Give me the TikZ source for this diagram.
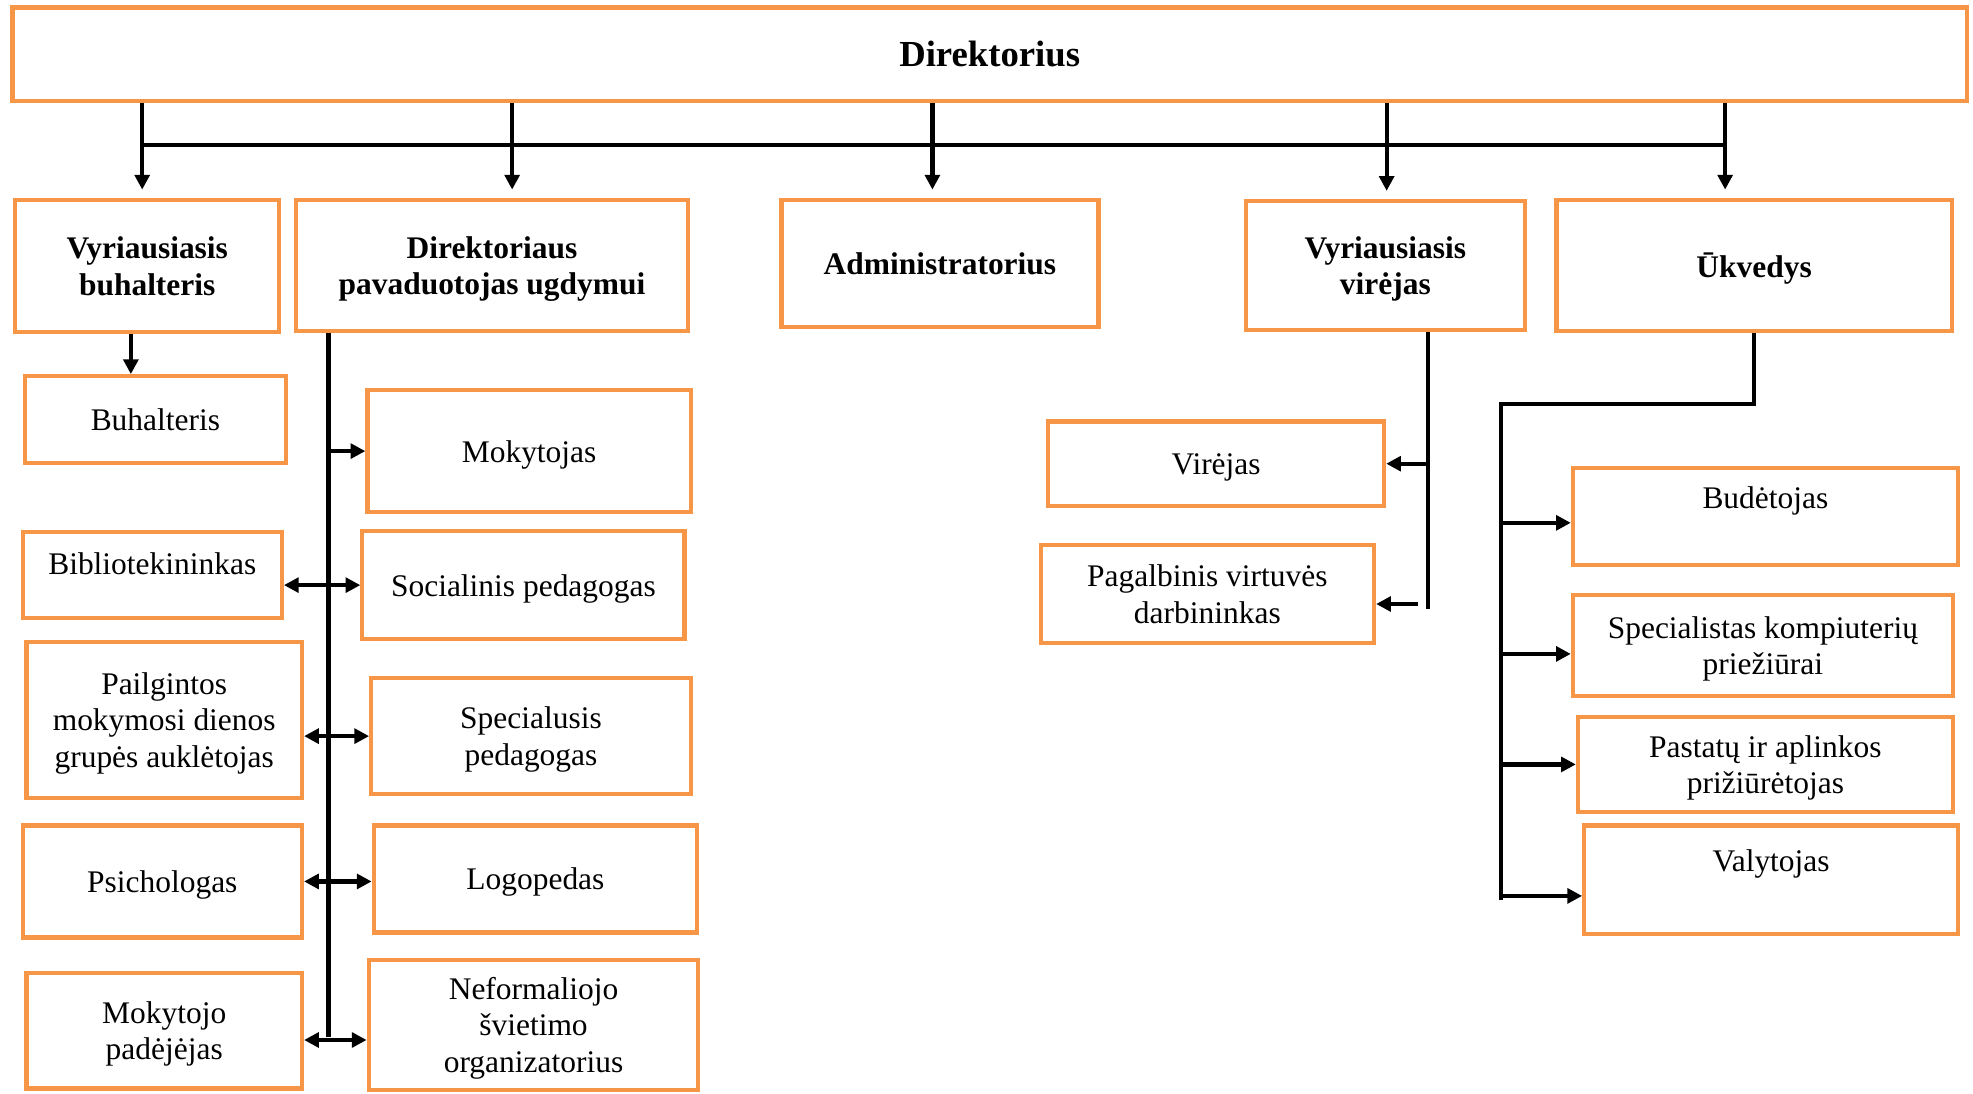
\documentclass[tikz,border=0pt]{standalone}
\usepackage{fontspec}
\setmainfont{Liberation Serif}
\usetikzlibrary{arrows.meta}
\definecolor{boxorange}{HTML}{F79646}

\begin{document}
\begin{tikzpicture}[x=0.6pt, y=-0.6pt,
    font=\fontsize{15}{17.4}\selectfont,
    box/.style={draw=boxorange, line width=2pt, inner sep=0pt, align=center, text depth=-1.5pt},
    head/.style={box, font=\fontsize{15}{17.4}\selectfont\bfseries},
    conn/.style={line width=2pt},
    arr/.style={conn, -{Triangle[length=7pt,width=7pt]}},
    darr/.style={conn, {Triangle[length=7pt,width=7pt]}-{Triangle[length=7pt,width=7pt]}}]
\useasboundingbox (0,0) rectangle (1568,869);

% top level
\node (dir) [box, minimum width=931.8pt, minimum height=44.4pt,
  font=\fontsize{17.5}{20}\selectfont\bfseries] at (786.5,43) {Direktorius};

% second level
\node (vbuh) [head, minimum width=126pt,   minimum height=63pt]   at (117,211.5) {Vyriausiasis\\buhalteris};
\node (pav)  [head, minimum width=187.2pt, minimum height=62.4pt] at (391,211)   {Direktoriaus\\pavaduotojas ugdymui};
\node (adm)  [head, minimum width=151.2pt, minimum height=60.6pt] at (747,209.5) {Administratorius};
\node (vvir) [head, minimum width=133.2pt, minimum height=61.2pt] at (1101,211)  {Vyriausiasis\\virėjas};
\node (ukv)  [head, minimum width=188.4pt, minimum height=62.4pt] at (1394,211)  {Ūkvedys};

% left column
\node (buh)   [box, minimum width=124.2pt, minimum height=41.4pt] at (123.5,333.5) {Buhalteris};
\node (bibl)  [box, minimum width=123.6pt, minimum height=40.8pt,
  label={[yshift=5.4pt]center:Bibliotekininkas}] at (121,457) {};
\node (pail)  [box, minimum width=131.4pt, minimum height=74.4pt] at (130.5,572) {Pailgintos\\mokymosi dienos\\grupės auklėtojas};
\node (psich) [box, minimum width=133.2pt, minimum height=53.4pt] at (129,700.5) {Psichologas};
\node (mpad)  [box, minimum width=131.4pt, minimum height=55.2pt] at (130.5,819) {Mokytojo\\padėjėjas};

% middle column
\node (mok)  [box, minimum width=154.2pt, minimum height=58.2pt] at (420.5,358.5) {Mokytojas};
\node (socp) [box, minimum width=153.6pt, minimum height=51.6pt] at (416,465)     {Socialinis pedagogas};
\node (spec) [box, minimum width=152.4pt, minimum height=55.2pt] at (422,585)     {Specialusis\\pedagogas};
\node (logo) [box, minimum width=154.2pt, minimum height=51pt]   at (425.5,698.5) {Logopedas};
\node (nef)  [box, minimum width=157.2pt, minimum height=61.8pt] at (424,814.5)   {Neformaliojo\\švietimo\\organizatorius};

% kitchen
\node (vir) [box, minimum width=160.2pt, minimum height=40.2pt] at (966.5,368.5) {Virėjas};
\node (pvd) [box, minimum width=159pt,   minimum height=46.8pt] at (959.5,472)   {Pagalbinis virtuvės\\darbininkas};

% maintenance
\node (bud)  [box, minimum width=183.6pt, minimum height=46.2pt,
  label={[yshift=7.5pt]center:Budėtojas}] at (1403,410.5) {};
\node (komp) [box, minimum width=181.2pt, minimum height=48pt] at (1401,513)   {Specialistas kompiuterių\\priežiūrai};
\node (past) [box, minimum width=178.8pt, minimum height=45pt] at (1403,607.5) {Pastatų ir aplinkos\\prižiūrėtojas};
\node (valy) [box, minimum width=178.2pt, minimum height=51.6pt,
  label={[yshift=7.2pt]center:Valytojas}] at (1407.5,699) {};

% from the director
\coordinate (cvbuh) at (113,115);
\coordinate (cpav)  at (407,115);
\coordinate (cadm)  at (741,115);
\coordinate (cvvir) at (1102,115);
\coordinate (cukv)  at (1371,115);
\draw[conn] (cvbuh) -- (cukv);
\foreach \n in {vbuh,pav,adm,vvir,ukv}
  \draw[arr, shorten >=4pt] (dir.south -| c\n) -- (\n.north -| c\n);

% accountant
\coordinate (b1) at (104,0);
\draw[arr] (vbuh.south -| b1) -- (buh.north -| b1);

% deputy
\coordinate (pend) at (261,824);
\draw[conn] (pav.south -| pend) -- (pend);
\draw[arr] (mok.west -| pend) -- (mok.west);
\draw[darr] (bibl.east |- socp.west) -- (socp.west);
\draw[darr] (pail.east |- spec.west) -- (spec.west);
\draw[darr] (psich.east) -- (logo.west |- psich.east);
\draw[darr] ([yshift=-4.5pt]mpad.east) -- ([yshift=-4.5pt]nef.west |- mpad.east);

% head cook
\coordinate (vend) at (1135,484);
\coordinate (pstart) at (1127,480);
\draw[conn] (vvir.south -| vend) -- (vend);
\draw[arr] (vir.east -| vend) -- (vir.east);
\draw[arr] (pstart) -- (pvd.east |- pstart);

% caretaker
\coordinate (ubend) at (1193,321);
\coordinate (uend) at (1193,715);
\draw[conn] (ukv.south) -- (ukv.south |- ubend) -- (ubend) -- (uend);
\draw[arr] ([yshift=-3pt]uend |- bud.west) -- ([yshift=-3pt]bud.west);
\draw[arr] ([yshift=-4pt]uend |- komp.west) -- ([yshift=-4pt]komp.west);
\draw[arr] (uend |- past.west) -- (past.west);
\draw[arr] ([yshift=-7.8pt]uend |- valy.west) -- ([yshift=-7.8pt]valy.west);
\end{tikzpicture}
\end{document}
